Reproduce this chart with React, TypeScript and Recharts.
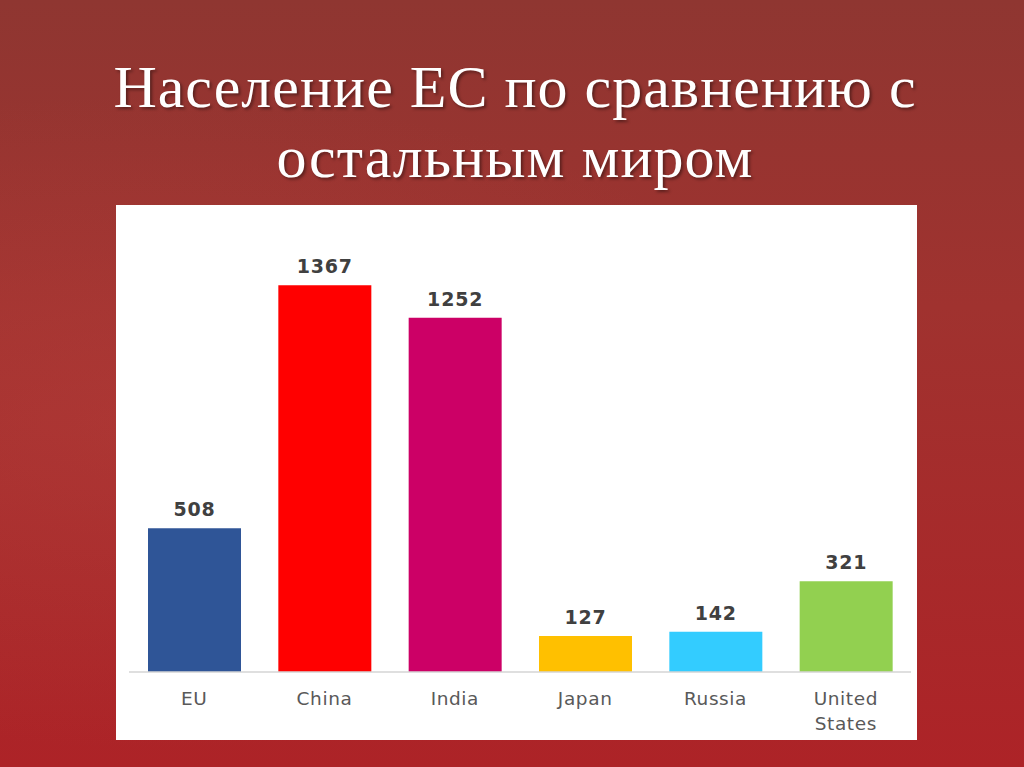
import React from 'react';
import { BarChart, Bar, XAxis, YAxis, Cell, LabelList } from 'recharts';

const TITLE_LINES = ['Население ЕС по сравнению с', 'остальным миром'];
const COUNTRIES = ['EU', 'China', 'India', 'Japan', 'Russia', 'United States'];
const POPULATION = [508, 1367, 1252, 127, 142, 321];
const BAR_COLORS = ['#2F5597', '#FF0000', '#CC0066', '#FFC000', '#33CCFF', '#92D050'];

const data = COUNTRIES.map((name, i) => ({ name, value: POPULATION[i] }));

const CountryTick = (props: any) => {
  const { x, y, payload } = props;
  const words = String(payload.value).split(' ');
  return (
    <text
      x={x}
      y={y}
      textAnchor="middle"
      fill="#595959"
      fontSize={18.5}
      letterSpacing={0.6}
      fontFamily="'DejaVu Sans', Verdana, sans-serif"
    >
      {words.map((w) => (
        <tspan key={w} x={x} dy={25}>
          {w}
        </tspan>
      ))}
    </text>
  );
};

export default function App() {
  return (
    <div
      style={{
        position: 'fixed',
        left: 0,
        top: 0,
        width: 1024,
        height: 767,
        overflow: 'hidden',
        background:
          'radial-gradient(ellipse at 15% 55%, rgba(190,70,65,0.35) 0%, rgba(190,70,65,0) 55%), linear-gradient(180deg, #8f3631 0%, #a0322f 40%, #ad2327 100%)',
      }}
    >
      <div
        style={{
          position: 'absolute',
          left: 0,
          top: 52,
          width: 1030,
          textAlign: 'center',
          color: '#ffffff',
          fontFamily: "'Liberation Serif', 'Times New Roman', serif",
          fontSize: 60,
          letterSpacing: 1,
          lineHeight: '70px',
          textShadow: '2px 2px 3px rgba(0,0,0,0.4)',
        }}
      >
        {TITLE_LINES.map((t) => (
          <div key={t}>{t}</div>
        ))}
      </div>
      <div style={{ position: 'absolute', left: 116, top: 205, width: 801, height: 535, background: '#ffffff' }}>
        <BarChart width={801} height={535} data={data} margin={{ top: 71, right: 6, left: 13, bottom: 0 }}>
          <XAxis
            dataKey="name"
            height={68}
            interval={0}
            tickLine={false}
            axisLine={{ stroke: '#d4d4d4', strokeWidth: 1.5 }}
            tick={<CountryTick />}
          />
          <YAxis hide domain={[0, 1400]} />
          <Bar dataKey="value" barSize={93} isAnimationActive={false}>
            {data.map((d, i) => (
              <Cell key={d.name} fill={BAR_COLORS[i]} />
            ))}
            <LabelList
              dataKey="value"
              position="top"
              offset={12}
              fill="#404040"
              fontSize={19}
              letterSpacing={0.8}
              fontWeight="bold"
              fontFamily="'DejaVu Sans', Verdana, sans-serif"
            />
          </Bar>
        </BarChart>
      </div>
    </div>
  );
}
